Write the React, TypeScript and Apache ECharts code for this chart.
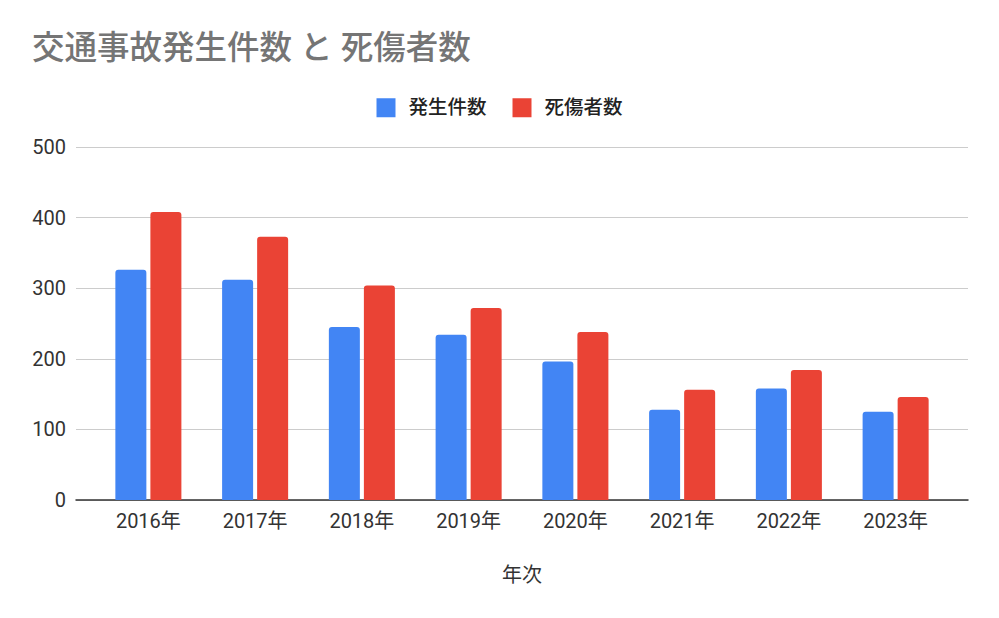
import React, { useEffect, useRef } from "react";
import * as echarts from "echarts";

const years = ["2016年", "2017年", "2018年", "2019年", "2020年", "2021年", "2022年", "2023年"];
const accidents = [326, 312, 245, 234, 196, 128, 158, 125];
const casualties = [408, 373, 304, 272, 238, 156, 184, 146];
const seriesNames = ["発生件数", "死傷者数"];
const titleText = "交通事故発生件数 と 死傷者数";
const xAxisName = "年次";

const FONT = "Roboto, 'Noto Sans CJK JP', sans-serif";

export default function App() {
  const ref = useRef<HTMLDivElement>(null);
  useEffect(() => {
    if (!ref.current) return;
    const chart = echarts.init(ref.current, undefined, { renderer: "svg" });
    chart.setOption({
      animation: false,
      backgroundColor: "#ffffff",
      title: {
        text: titleText,
        left: 27,
        top: 27,
        textStyle: { fontFamily: FONT, fontSize: 32.5, fontWeight: 500, color: "#757575" },
      },
      legend: {
        data: seriesNames,
        left: "center",
        top: 93,
        icon: "rect",
        itemWidth: 19,
        itemHeight: 19,
        itemGap: 26,
        textStyle: { fontFamily: FONT, fontSize: 19.5, fontWeight: 500, color: "#222", padding: [0, 0, 0, 8] },
      },
      grid: [
        { left: 76, right: 31, top: 147, bottom: 118 },
        { left: 95, right: 50, top: 147, bottom: 118 },
      ],
      xAxis: [
        {
          gridIndex: 0,
          type: "value",
          min: 0,
          max: 1,
          axisLine: { show: true, lineStyle: { color: "#333", width: 1.5 } },
          axisTick: { show: false },
          axisLabel: { show: false },
          splitLine: { show: false },
        },
        {
          gridIndex: 1,
          type: "category",
          data: years,
          axisLine: { show: false },
          axisTick: { show: false },
          axisLabel: { fontFamily: FONT, fontSize: 20, color: "#333", margin: 11 },
          name: xAxisName,
          nameLocation: "middle",
          nameGap: 65,
          nameTextStyle: { fontFamily: FONT, fontSize: 20, color: "#333" },
        },
      ],
      yAxis: [
        {
          gridIndex: 0,
          type: "value",
          min: 0,
          max: 500,
          interval: 100,
          axisLine: { show: false },
          axisTick: { show: false },
          axisLabel: { fontFamily: FONT, fontSize: 20, color: "#333", margin: 10 },
          splitLine: { lineStyle: { color: "#cccccc", width: 1 } },
        },
        {
          gridIndex: 1,
          type: "value",
          min: 0,
          max: 500,
          interval: 100,
          show: false,
          splitLine: { show: false },
        },
      ],
      series: [
        {
          name: seriesNames[0],
          type: "bar",
          xAxisIndex: 1,
          yAxisIndex: 1,
          data: accidents,
          barWidth: 31,
          barGap: "13%",
          itemStyle: { color: "#4285F4", borderRadius: [3, 3, 0, 0] },
        },
        {
          name: seriesNames[1],
          type: "bar",
          xAxisIndex: 1,
          yAxisIndex: 1,
          data: casualties,
          barWidth: 31,
          barGap: "13%",
          itemStyle: { color: "#EA4335", borderRadius: [3, 3, 0, 0] },
        },
      ],
    });
    return () => chart.dispose();
  }, []);
  return (
    <div
      ref={ref}
      style={{ position: "absolute", left: 0, top: 0, width: 999, height: 618 }}
    />
  );
}
